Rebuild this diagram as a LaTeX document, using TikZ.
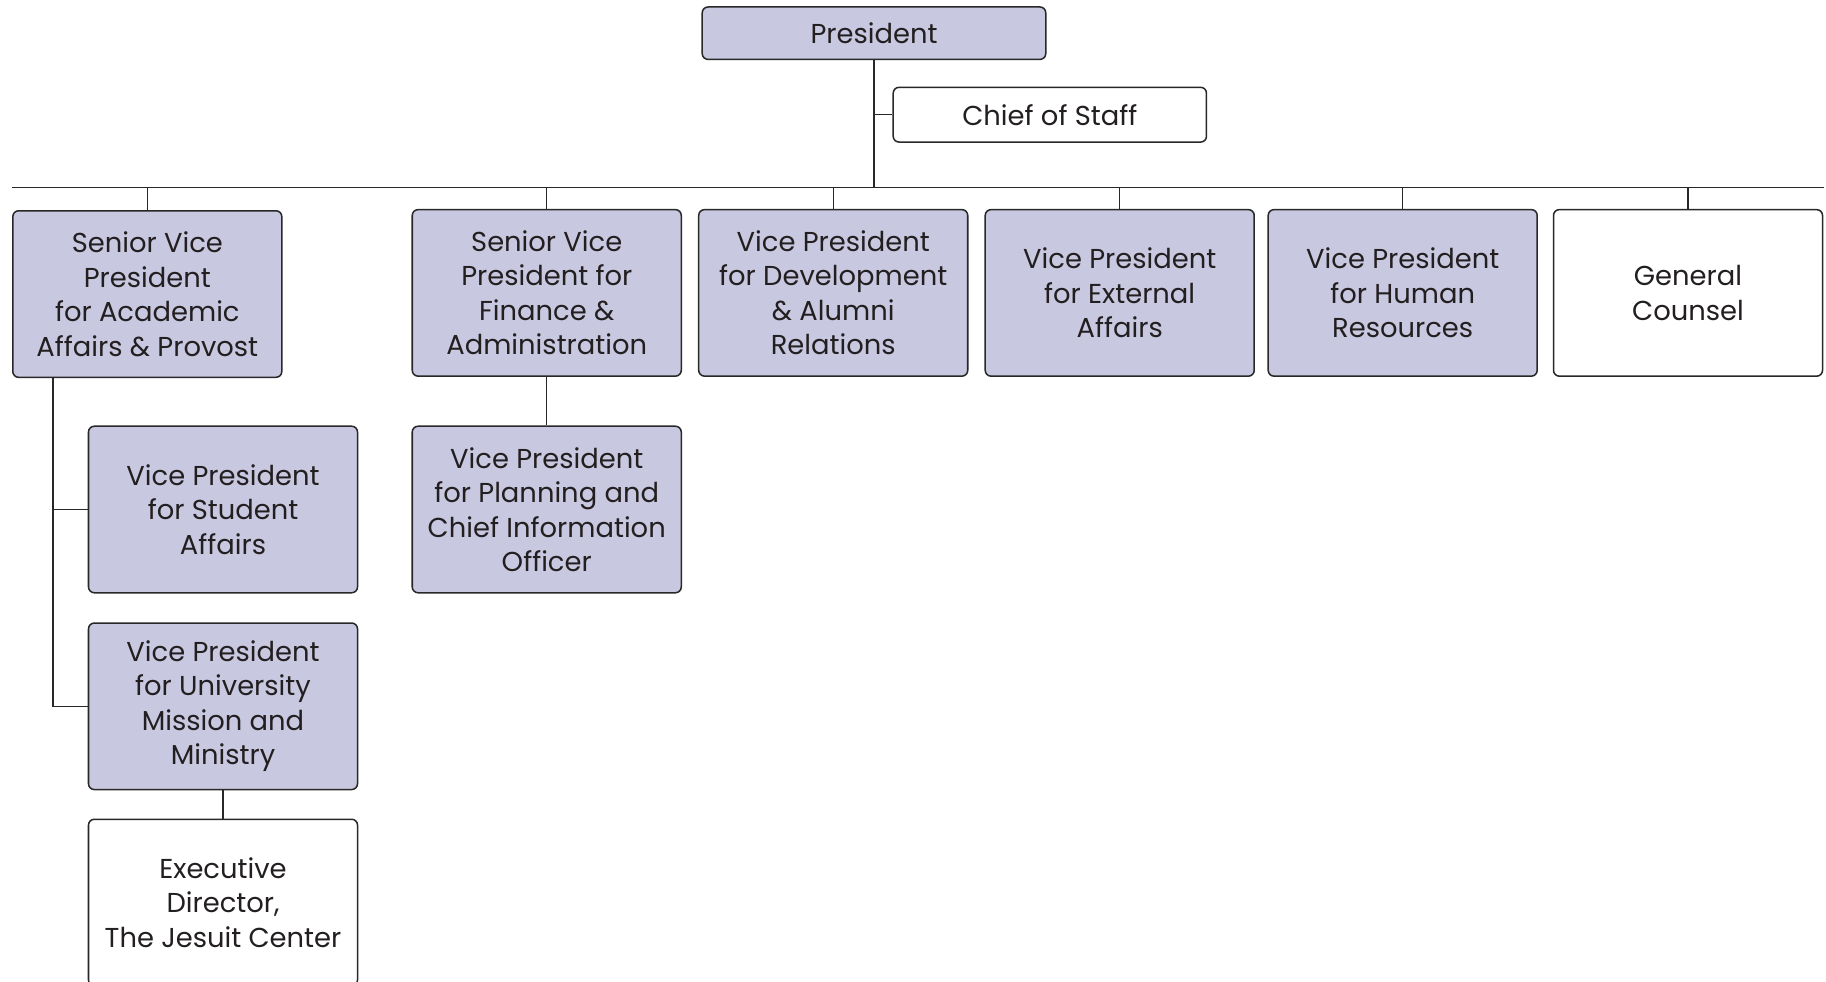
\documentclass[tikz,border=0pt]{standalone}
\usepackage{fontspec}
\setmainfont{Poppins}
\definecolor{boxfill}{RGB}{200,200,224}
\definecolor{edgecol}{RGB}{40,40,40}
\definecolor{txt}{RGB}{35,31,32}
\begin{document}
\begin{tikzpicture}[x=1pt,y=-1pt,
  box/.style={draw=edgecol,line width=1.3pt,rounded corners=5pt,minimum width=231pt,minimum height=143pt,
    align=center,inner sep=0pt,text=txt,font=\fontsize{23.5}{29.6}\selectfont},
  filled/.style={box,fill=boxfill},
  plain/.style={box,fill=white},
  conn/.style={draw=edgecol,line width=1pt}]
\useasboundingbox (0,0) rectangle (1568,843);
% top
\node[filled,minimum width=295pt,minimum height=45pt] (pres) at (750.5,28.5) {President};
\node[plain,minimum width=269pt,minimum height=47pt] (cos) at (901.5,98.5) {Chief of Staff};
% bus
\coordinate (busL) at (10,161);
\coordinate (busR) at (1566,161);
\draw[conn] (busL) -- (busR);
% second row
\node[filled] (sva) at (126.5,252.5) {Senior Vice\\President\\for Academic\\Affairs \& Provost};
\node[filled] (svf) at (469.5,251.5) {Senior Vice\\President for\\Finance \&\\Administration};
\node[filled] (vpd) at (715.5,251.5) {Vice President\\for Development\\\& Alumni\\Relations};
\node[filled] (vpe) at (961.5,251.5) {Vice President\\for External\\Affairs};
\node[filled] (vph) at (1204.5,251.5) {Vice President\\for Human\\Resources};
\node[plain] (gc) at (1449.5,251.5) {General\\Counsel};
% third level
\node[filled] (vps) at (191.5,437.5) {Vice President\\for Student\\Affairs};
\node[filled] (vpm) at (191.5,606.5) {Vice President\\for University\\Mission and\\Ministry};
\node[plain] (exd) at (191.5,775) {Executive\\Director,\\The Jesuit Center};
\node[filled] (vpp) at (469.5,437.5) {Vice President\\for Planning and\\Chief Information\\Officer};
% connectors
\draw[conn] (pres.south) -- (pres.south |- busL);
\draw[conn] (pres.south |- cos.west) -- (cos.west);
\foreach \n in {sva,svf,vpd,vpe,vph,gc}{
  \draw[conn] (\n.north |- busL) -- (\n.north);
}
\coordinate (trunk) at (45.5,0);
\draw[conn] (sva.south -| trunk) |- (vps.west);
\draw[conn] (sva.south -| trunk) |- (vpm.west);
\draw[conn] (vpm.south) -- (exd.north);
\draw[conn] (svf.south) -- (vpp.north);
\end{tikzpicture}
\end{document}
